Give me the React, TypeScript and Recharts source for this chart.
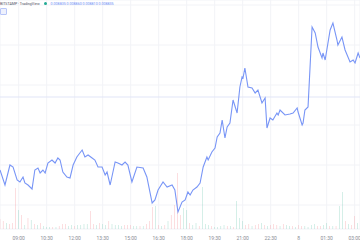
import React from 'react'
import {
    ComposedChart,
    Line,
    Bar,
    XAxis,
    YAxis,
    CartesianGrid,
    ReferenceLine,
} from 'recharts'

// minutes since 08:00
const PRICE_TIME = [
    0, 16, 32, 42, 55, 64, 74, 80, 90, 103,
    112, 122, 129, 138, 145, 154, 167, 177, 186, 193,
    202, 215, 225, 235, 247, 264, 273, 283, 296, 305,
    315, 328, 338, 344, 354, 370, 379, 392, 402, 411,
    424, 440, 460, 472, 489, 498, 508, 524, 537, 553,
    562, 572, 585, 595, 604, 611, 620, 633, 643, 653,
    665, 669, 681, 691, 698, 707, 714, 723, 730, 739,
    749, 762, 771, 778, 781, 787, 797, 810, 820, 829,
    842, 852, 858, 868, 877, 890, 894, 900, 916, 932,
    942, 955, 958, 971, 974, 980, 990, 1003, 1013, 1022,
    1035, 1038, 1045, 1061, 1070, 1083, 1086, 1099, 1109, 1125,
    1135, 1141, 1151, 1157,
]

const PRICE = [
    0.008275, 0.0082, 0.0083, 0.00829, 0.008225, 0.008215, 0.00824, 0.00821, 0.0082, 0.00818,
    0.008275, 0.008285, 0.00826, 0.008275, 0.00826, 0.00831, 0.008325, 0.00831, 0.008335, 0.008325,
    0.008265, 0.00824, 0.008235, 0.0083, 0.00834, 0.008375, 0.00834, 0.00835, 0.008335, 0.008325,
    0.00829, 0.00829, 0.00825, 0.008265, 0.0082, 0.008315, 0.00831, 0.0083, 0.008315, 0.0083,
    0.008215, 0.00829, 0.008285, 0.00824, 0.00811, 0.008125, 0.008175, 0.008215, 0.00819, 0.0082,
    0.008175, 0.008065, 0.008115, 0.008125, 0.008165, 0.00815, 0.008175, 0.00819, 0.00821, 0.00829,
    0.00834, 0.008325, 0.008365, 0.008385, 0.00844, 0.00846, 0.008525, 0.008435, 0.00849, 0.00851,
    0.008625, 0.00856, 0.00869, 0.00874, 0.008735, 0.008785, 0.00869, 0.008685, 0.00866, 0.008675,
    0.00861, 0.008635, 0.008485, 0.008535, 0.008525, 0.00856, 0.00855, 0.008575, 0.00855, 0.008555,
    0.00856, 0.008585, 0.008565, 0.0085, 0.00851, 0.008575, 0.00859, 0.00899, 0.00896, 0.00889,
    0.008835, 0.00886, 0.008825, 0.008975, 0.00901, 0.008925, 0.0089, 0.00894, 0.008875, 0.008815,
    0.008825, 0.00881, 0.00886, 0.008835,
]

// 10 minute volume bars, positive = up candle, negative = down candle
const VOLUME = [
    -100, -80, 60, -50, -60, -410, 190, -140, 40, -110,
    90, -50, 40, -60, 30, 20, 20, -20, 20, -30,
    -50, -50, 30, 40, -30, 40, 40, 50, 50, -180,
    -50, 40, -60, 50, 40, -80, 50, 40, 40, 30,
    -40, -40, -40, 30, 30, -30, 30, -50, -80, -220,
    230, -40, 30, -40, 80, -140, -240, -560, -140, 210,
    190, -60, 40, 60, -30, 420, 50, 40, -30, 20,
    20, 30, 40, -30, 30, -20, 280, 110, 80, -40,
    -50, 30, -40, -50, 60, -40, 30, -40, -50, -40,
    30, -50, 40, 30, -30, 20, -40, -30, 30, 20,
    40, 50, -30, -30, 40, 60, -30, 30, -30, 230,
    370, -80, 50, -40, -130, 60,
]

const TICKS = [60, 150, 240, 330, 420, 510, 600, 690, 780, 870, 960, 1050, 1140]
const TICK_LABELS = ['09:00', '10:30', '12:00', '13:30', '15:00', '16:30', '18:00', '19:30', '21:00', '22:30', '8', '01:30', '03:00']
const PRICE_GRID = [0.0081, 0.0082, 0.0083, 0.0084, 0.0085, 0.0086, 0.0087, 0.0088, 0.0089, 0.009, 0.0091]
const PREV_CLOSE = 0.00864

const volumeRows = VOLUME.map((v, i) => ({
    t: i * 10,
    up: v >= 0 ? v : undefined,
    down: v < 0 ? -v : undefined,
}))

const priceRows = PRICE_TIME.map((t, i) => ({ t, price: PRICE[i] }))

export default function App() {
    return (
        <div style={{ position: 'absolute', left: 0, top: 0, width: 360, height: 240, background: '#fff', overflow: 'hidden', fontFamily: 'Roboto, sans-serif' }}>
            <ComposedChart width={360} height={240} data={volumeRows} margin={{ top: 0, right: 0, bottom: 0, left: 0 }}>
                <CartesianGrid yAxisId="price" stroke="#f2f3f7" strokeWidth={1} />
                <XAxis
                    dataKey="t"
                    type="number"
                    domain={[0, 1157]}
                    ticks={TICKS}
                    interval={0}
                    tickFormatter={(v: number) => TICK_LABELS[TICKS.indexOf(v)] ?? ''}
                    tick={{ fill: '#8a8d96', fontSize: 5 }}
                    axisLine={false}
                    tickLine={false}
                    tickMargin={1}
                    height={11}
                    allowDataOverflow
                />
                <YAxis yAxisId="price" domain={[0.00798, 0.009125]} ticks={PRICE_GRID} hide allowDataOverflow />
                <YAxis yAxisId="vol" domain={[0, 2290]} hide />
                <ReferenceLine yAxisId="price" y={PREV_CLOSE} stroke="#e1e5f7" strokeWidth={1} />
                <Bar yAxisId="vol" dataKey="up" stackId="v" fill="#6cc5ae" barSize={3} isAnimationActive={false} />
                <Bar yAxisId="vol" dataKey="down" stackId="v" fill="#f28a91" barSize={3} isAnimationActive={false} />
                <Line
                    yAxisId="price"
                    data={priceRows}
                    dataKey="price"
                    type="linear"
                    stroke="#7895f6"
                    strokeWidth={1.1}
                    dot={false}
                    activeDot={false}
                    isAnimationActive={false}
                />
            </ComposedChart>
            <div style={{ position: 'absolute', left: 0, top: 2, fontSize: 3.6, lineHeight: '5px', color: '#50535e', whiteSpace: 'nowrap' }}>
                BITSTAMP · TradingView
                <span style={{ display: 'inline-block', width: 3, height: 3, borderRadius: 2, background: '#22ab94', margin: '0 4px 0 4px' }} />
                <span style={{ color: '#6d8bf5' }}>0.008835 0.008860 0.008810 0.008835</span>
            </div>
            <div style={{ position: 'absolute', left: 0, top: 8, width: 5, height: 5, border: '1px solid #b8c6f8', borderRadius: 1, background: '#eef1fd' }} />
        </div>
    )
}
